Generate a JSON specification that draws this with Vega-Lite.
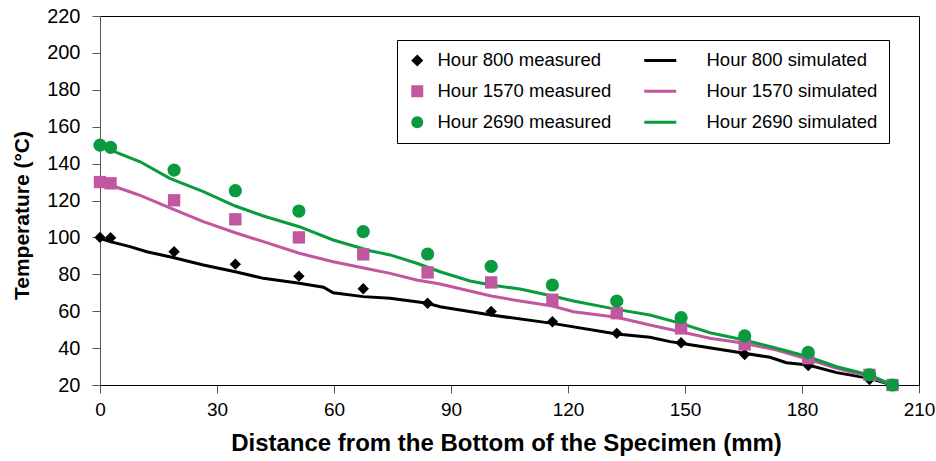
{
  "$schema": "https://vega.github.io/schema/vega-lite/v6.json",
  "width": 819,
  "height": 369,
  "autosize": {"type": "none"},
  "padding": {"left": 100, "top": 16, "right": 17, "bottom": 76},
  "background": "white",
  "config": {
    "view": {"stroke": "#000", "strokeWidth": 1},
    "font": "Liberation Sans",
    "axis": {"grid": false, "labelFont": "Liberation Sans", "titleFont": "Liberation Sans", "labelColor": "#000", "titleColor": "#000", "titleFontWeight": "bold", "tickSize": 8, "tickColor": "#555", "domainColor": "#555", "labelFlush": false}
  },
  "data": {
    "values": [
      {"x": 0, "T": 100, "series": "Hour 800 measured", "kind": "m"},
      {"x": 2.7, "T": 99.8, "series": "Hour 800 measured", "kind": "m"},
      {"x": 19, "T": 92.2, "series": "Hour 800 measured", "kind": "m"},
      {"x": 34.7, "T": 85.5, "series": "Hour 800 measured", "kind": "m"},
      {"x": 51, "T": 79, "series": "Hour 800 measured", "kind": "m"},
      {"x": 67.5, "T": 72.2, "series": "Hour 800 measured", "kind": "m"},
      {"x": 84, "T": 64.3, "series": "Hour 800 measured", "kind": "m"},
      {"x": 100.3, "T": 59.9, "series": "Hour 800 measured", "kind": "m"},
      {"x": 116, "T": 54.3, "series": "Hour 800 measured", "kind": "m"},
      {"x": 132.5, "T": 48, "series": "Hour 800 measured", "kind": "m"},
      {"x": 149, "T": 42.9, "series": "Hour 800 measured", "kind": "m"},
      {"x": 165.3, "T": 36.5, "series": "Hour 800 measured", "kind": "m"},
      {"x": 181.6, "T": 30.6, "series": "Hour 800 measured", "kind": "m"},
      {"x": 197.3, "T": 23, "series": "Hour 800 measured", "kind": "m"},
      {"x": 203.2, "T": 20, "series": "Hour 800 measured", "kind": "m"},
      {"x": 0, "T": 130, "series": "Hour 1570 measured", "kind": "m"},
      {"x": 2.7, "T": 129.3, "series": "Hour 1570 measured", "kind": "m"},
      {"x": 19, "T": 120.1, "series": "Hour 1570 measured", "kind": "m"},
      {"x": 34.7, "T": 109.8, "series": "Hour 1570 measured", "kind": "m"},
      {"x": 51, "T": 100, "series": "Hour 1570 measured", "kind": "m"},
      {"x": 67.5, "T": 90.8, "series": "Hour 1570 measured", "kind": "m"},
      {"x": 84, "T": 81, "series": "Hour 1570 measured", "kind": "m"},
      {"x": 100.3, "T": 75.6, "series": "Hour 1570 measured", "kind": "m"},
      {"x": 116, "T": 66.2, "series": "Hour 1570 measured", "kind": "m"},
      {"x": 132.5, "T": 58.9, "series": "Hour 1570 measured", "kind": "m"},
      {"x": 149, "T": 50.7, "series": "Hour 1570 measured", "kind": "m"},
      {"x": 165.3, "T": 42, "series": "Hour 1570 measured", "kind": "m"},
      {"x": 181.6, "T": 34.5, "series": "Hour 1570 measured", "kind": "m"},
      {"x": 197.3, "T": 25.5, "series": "Hour 1570 measured", "kind": "m"},
      {"x": 203.2, "T": 20, "series": "Hour 1570 measured", "kind": "m"},
      {"x": 0, "T": 150, "series": "Hour 2690 measured", "kind": "m"},
      {"x": 2.7, "T": 148.8, "series": "Hour 2690 measured", "kind": "m"},
      {"x": 19, "T": 136.5, "series": "Hour 2690 measured", "kind": "m"},
      {"x": 34.7, "T": 125.3, "series": "Hour 2690 measured", "kind": "m"},
      {"x": 51, "T": 114.3, "series": "Hour 2690 measured", "kind": "m"},
      {"x": 67.5, "T": 103.1, "series": "Hour 2690 measured", "kind": "m"},
      {"x": 84, "T": 91, "series": "Hour 2690 measured", "kind": "m"},
      {"x": 100.3, "T": 84.3, "series": "Hour 2690 measured", "kind": "m"},
      {"x": 116, "T": 74.2, "series": "Hour 2690 measured", "kind": "m"},
      {"x": 132.5, "T": 65.5, "series": "Hour 2690 measured", "kind": "m"},
      {"x": 149, "T": 56.5, "series": "Hour 2690 measured", "kind": "m"},
      {"x": 165.3, "T": 46.6, "series": "Hour 2690 measured", "kind": "m"},
      {"x": 181.6, "T": 37.7, "series": "Hour 2690 measured", "kind": "m"},
      {"x": 197.3, "T": 25.5, "series": "Hour 2690 measured", "kind": "m"},
      {"x": 203.2, "T": 20, "series": "Hour 2690 measured", "kind": "m"},

      {"x": 0, "T": 99.5, "series": "Hour 800 simulated", "kind": "s"},
      {"x": 2.6, "T": 97.7, "series": "Hour 800 simulated", "kind": "s"},
      {"x": 7.7, "T": 95, "series": "Hour 800 simulated", "kind": "s"},
      {"x": 12, "T": 92.2, "series": "Hour 800 simulated", "kind": "s"},
      {"x": 19, "T": 89, "series": "Hour 800 simulated", "kind": "s"},
      {"x": 26.5, "T": 85, "series": "Hour 800 simulated", "kind": "s"},
      {"x": 34.7, "T": 81.4, "series": "Hour 800 simulated", "kind": "s"},
      {"x": 41.9, "T": 77.8, "series": "Hour 800 simulated", "kind": "s"},
      {"x": 51.1, "T": 75.1, "series": "Hour 800 simulated", "kind": "s"},
      {"x": 57.3, "T": 73, "series": "Hour 800 simulated", "kind": "s"},
      {"x": 59.8, "T": 70, "series": "Hour 800 simulated", "kind": "s"},
      {"x": 67.5, "T": 67.9, "series": "Hour 800 simulated", "kind": "s"},
      {"x": 74.4, "T": 67, "series": "Hour 800 simulated", "kind": "s"},
      {"x": 84, "T": 64.3, "series": "Hour 800 simulated", "kind": "s"},
      {"x": 87.2, "T": 62.4, "series": "Hour 800 simulated", "kind": "s"},
      {"x": 100.3, "T": 57.9, "series": "Hour 800 simulated", "kind": "s"},
      {"x": 116, "T": 53.4, "series": "Hour 800 simulated", "kind": "s"},
      {"x": 132.5, "T": 47.6, "series": "Hour 800 simulated", "kind": "s"},
      {"x": 141, "T": 45.9, "series": "Hour 800 simulated", "kind": "s"},
      {"x": 146.2, "T": 43.5, "series": "Hour 800 simulated", "kind": "s"},
      {"x": 148.9, "T": 42.6, "series": "Hour 800 simulated", "kind": "s"},
      {"x": 165.2, "T": 37.2, "series": "Hour 800 simulated", "kind": "s"},
      {"x": 171.8, "T": 35, "series": "Hour 800 simulated", "kind": "s"},
      {"x": 176, "T": 32.1, "series": "Hour 800 simulated", "kind": "s"},
      {"x": 181.6, "T": 30.8, "series": "Hour 800 simulated", "kind": "s"},
      {"x": 188.9, "T": 26.7, "series": "Hour 800 simulated", "kind": "s"},
      {"x": 197.3, "T": 23.6, "series": "Hour 800 simulated", "kind": "s"},
      {"x": 203.2, "T": 20, "series": "Hour 800 simulated", "kind": "s"},

      {"x": 0, "T": 129.5, "series": "Hour 1570 simulated", "kind": "s"},
      {"x": 2.6, "T": 128.4, "series": "Hour 1570 simulated", "kind": "s"},
      {"x": 10, "T": 123, "series": "Hour 1570 simulated", "kind": "s"},
      {"x": 19, "T": 115, "series": "Hour 1570 simulated", "kind": "s"},
      {"x": 26.5, "T": 108.5, "series": "Hour 1570 simulated", "kind": "s"},
      {"x": 34.7, "T": 102.5, "series": "Hour 1570 simulated", "kind": "s"},
      {"x": 41.9, "T": 97.7, "series": "Hour 1570 simulated", "kind": "s"},
      {"x": 51.1, "T": 91.4, "series": "Hour 1570 simulated", "kind": "s"},
      {"x": 59.8, "T": 86.8, "series": "Hour 1570 simulated", "kind": "s"},
      {"x": 69.2, "T": 82.7, "series": "Hour 1570 simulated", "kind": "s"},
      {"x": 74.4, "T": 80.5, "series": "Hour 1570 simulated", "kind": "s"},
      {"x": 81.2, "T": 76.9, "series": "Hour 1570 simulated", "kind": "s"},
      {"x": 87.2, "T": 74.7, "series": "Hour 1570 simulated", "kind": "s"},
      {"x": 100.3, "T": 68.2, "series": "Hour 1570 simulated", "kind": "s"},
      {"x": 107.7, "T": 65.5, "series": "Hour 1570 simulated", "kind": "s"},
      {"x": 116, "T": 62.8, "series": "Hour 1570 simulated", "kind": "s"},
      {"x": 121.4, "T": 59.7, "series": "Hour 1570 simulated", "kind": "s"},
      {"x": 132.5, "T": 56.7, "series": "Hour 1570 simulated", "kind": "s"},
      {"x": 141, "T": 52.5, "series": "Hour 1570 simulated", "kind": "s"},
      {"x": 148.9, "T": 48.9, "series": "Hour 1570 simulated", "kind": "s"},
      {"x": 156.4, "T": 45.3, "series": "Hour 1570 simulated", "kind": "s"},
      {"x": 165.2, "T": 42.6, "series": "Hour 1570 simulated", "kind": "s"},
      {"x": 173.5, "T": 39, "series": "Hour 1570 simulated", "kind": "s"},
      {"x": 181.6, "T": 33.9, "series": "Hour 1570 simulated", "kind": "s"},
      {"x": 188.9, "T": 29, "series": "Hour 1570 simulated", "kind": "s"},
      {"x": 197.3, "T": 24.5, "series": "Hour 1570 simulated", "kind": "s"},
      {"x": 203.2, "T": 20, "series": "Hour 1570 simulated", "kind": "s"},

      {"x": 0, "T": 150, "series": "Hour 2690 simulated", "kind": "s"},
      {"x": 2.6, "T": 147.4, "series": "Hour 2690 simulated", "kind": "s"},
      {"x": 10.3, "T": 141, "series": "Hour 2690 simulated", "kind": "s"},
      {"x": 17.9, "T": 132, "series": "Hour 2690 simulated", "kind": "s"},
      {"x": 26.5, "T": 124.8, "series": "Hour 2690 simulated", "kind": "s"},
      {"x": 34.7, "T": 117, "series": "Hour 2690 simulated", "kind": "s"},
      {"x": 41.9, "T": 111.6, "series": "Hour 2690 simulated", "kind": "s"},
      {"x": 51.1, "T": 105.8, "series": "Hour 2690 simulated", "kind": "s"},
      {"x": 59.8, "T": 98.6, "series": "Hour 2690 simulated", "kind": "s"},
      {"x": 69.2, "T": 92.8, "series": "Hour 2690 simulated", "kind": "s"},
      {"x": 74.4, "T": 90.5, "series": "Hour 2690 simulated", "kind": "s"},
      {"x": 81.2, "T": 86, "series": "Hour 2690 simulated", "kind": "s"},
      {"x": 87.2, "T": 81.4, "series": "Hour 2690 simulated", "kind": "s"},
      {"x": 94.9, "T": 76.4, "series": "Hour 2690 simulated", "kind": "s"},
      {"x": 100.3, "T": 74.2, "series": "Hour 2690 simulated", "kind": "s"},
      {"x": 107.7, "T": 72, "series": "Hour 2690 simulated", "kind": "s"},
      {"x": 116, "T": 68.2, "series": "Hour 2690 simulated", "kind": "s"},
      {"x": 121.4, "T": 65.5, "series": "Hour 2690 simulated", "kind": "s"},
      {"x": 132.5, "T": 61, "series": "Hour 2690 simulated", "kind": "s"},
      {"x": 141, "T": 57.9, "series": "Hour 2690 simulated", "kind": "s"},
      {"x": 148.9, "T": 53.4, "series": "Hour 2690 simulated", "kind": "s"},
      {"x": 156.4, "T": 48.3, "series": "Hour 2690 simulated", "kind": "s"},
      {"x": 165.2, "T": 44.4, "series": "Hour 2690 simulated", "kind": "s"},
      {"x": 173.5, "T": 39.9, "series": "Hour 2690 simulated", "kind": "s"},
      {"x": 181.6, "T": 35.3, "series": "Hour 2690 simulated", "kind": "s"},
      {"x": 188.9, "T": 29.9, "series": "Hour 2690 simulated", "kind": "s"},
      {"x": 197.3, "T": 25.4, "series": "Hour 2690 simulated", "kind": "s"},
      {"x": 203.2, "T": 20, "series": "Hour 2690 simulated", "kind": "s"}
    ]
  },
  "encoding": {
    "x": {
      "field": "x", "type": "quantitative",
      "scale": {"domain": [0, 210], "nice": false, "zero": false},
      "axis": {"orient": "bottom", "values": [0, 30, 60, 90, 120, 150, 180, 210], "title": "Distance from the Bottom of the Specimen (mm)", "domainColor": "#000", "labelFontSize": 19, "labelPadding": 7, "labelOverlap": false, "titleFontSize": 24, "titleX": 406, "titleY": 58, "titleBaseline": "middle", "titleAnchor": "middle"}
    },
    "y": {
      "field": "T", "type": "quantitative",
      "scale": {"domain": [20, 220], "nice": false, "zero": false},
      "axis": {"orient": "left", "values": [20, 40, 60, 80, 100, 120, 140, 160, 180, 200, 220], "title": "Temperature (°C)", "labelFontSize": 20, "labelPadding": 12, "labelOverlap": false, "titleFontSize": 21, "titleX": -78, "titleY": 199, "titleBaseline": "middle", "titleAngle": -90, "titleAnchor": "middle"}
    },
    "color": {
      "field": "series", "type": "nominal",
      "scale": {
        "domain": ["Hour 800 measured", "Hour 1570 measured", "Hour 2690 measured", "Hour 800 simulated", "Hour 1570 simulated", "Hour 2690 simulated"],
        "range": ["#000000", "#C0579F", "#0A9B3F", "#000000", "#C0579F", "#0A9B3F"]
      },
      "legend": {
        "title": null,
        "orient": "none",
        "legendX": 297,
        "legendY": 24,
        "columns": 2,
        "columnPadding": 32,
        "rowPadding": 12,
        "padding": 11,
        "strokeColor": "#000",
        "fillColor": "#fff",
        "labelFont": "Liberation Sans",
        "labelFontSize": 18.5,
        "labelColor": "#000",
        "labelOffset": 11,
        "labelLimit": 400,
        "symbolSize": 144,
        "symbolStrokeWidth": 0,
        "encode": {
          "symbols": {
            "update": {
              "fill": {"scale": "color", "field": "value"},
              "stroke": {"value": "transparent"},
              "opacity": {"value": 1}
            }
          }
        }
      }
    }
  },
  "layer": [
    {
      "transform": [{"filter": "datum.kind === 's'"}],
      "mark": {"type": "line", "strokeWidth": 3},
      "encoding": {}
    },
    {
      "transform": [{"filter": "datum.kind === 'm'"}],
      "mark": {"type": "point", "filled": true, "opacity": 1},
      "encoding": {
        "shape": {
          "field": "series", "type": "nominal",
          "scale": {
            "domain": ["Hour 800 measured", "Hour 1570 measured", "Hour 2690 measured", "Hour 800 simulated", "Hour 1570 simulated", "Hour 2690 simulated"],
            "range": ["diamond", "square", "circle", "M-7,-0.25L-1.667,-0.25L-1.667,0.25L-7,0.25Z", "M-7,-0.25L-1.667,-0.25L-1.667,0.25L-7,0.25Z", "M-7,-0.25L-1.667,-0.25L-1.667,0.25L-7,0.25Z"]
          }
        },
        "size": {
          "field": "series", "type": "ordinal",
          "scale": {"domain": ["Hour 800 measured", "Hour 1570 measured", "Hour 2690 measured"], "range": [130, 175, 150]},
          "legend": null
        }
      }
    }
  ]
}
